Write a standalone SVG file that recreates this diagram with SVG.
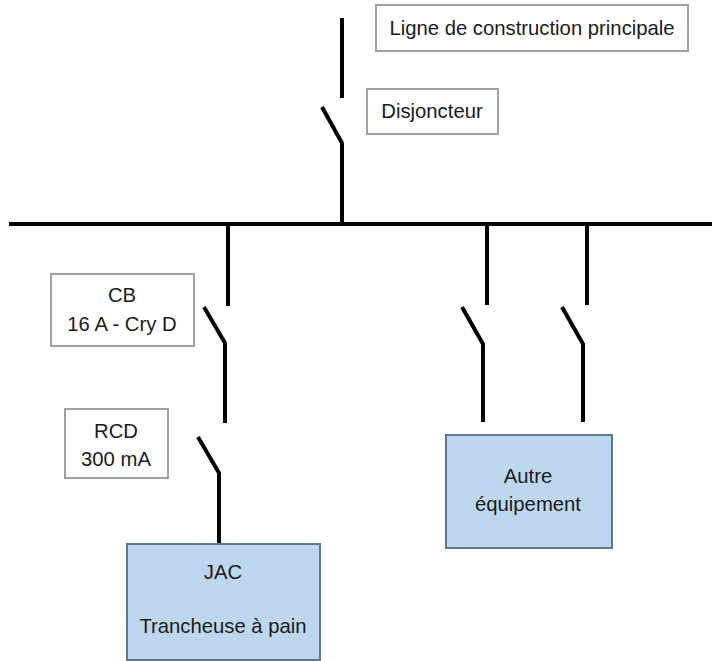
<svg xmlns="http://www.w3.org/2000/svg" width="715" height="661" viewBox="0 0 715 661">
<style>
.w{stroke:#000;stroke-width:4;fill:none;stroke-linecap:butt;stroke-linejoin:miter}
.lbl{fill:#fff;stroke:#a0a0a0;stroke-width:2}
.eq{fill:#bdd7ee;stroke:#5f7891;stroke-width:2}
text{font-family:"Liberation Sans",Arial,sans-serif;font-size:20.3px;fill:#1a1a1a;text-anchor:middle}
</style>
<rect width="715" height="661" fill="#fff"/>
<g id="connectors">
<path class="w" d="M342 18V98"/>
<path class="w" d="M322 107L342 143V225"/>
<path class="w" d="M9 224H712"/>
<path class="w" d="M228 224V306"/>
<path class="w" d="M204 307L225 343V423"/>
<path class="w" d="M198 437L219 473V544"/>
<path class="w" d="M487 224V305"/>
<path class="w" d="M462 307L483 344V422"/>
<path class="w" d="M587 224V305"/>
<path class="w" d="M562 307L583 344V422"/>
</g>
<g id="ligne">
<rect class="lbl" x="376" y="5" width="312" height="46"/>
<text x="532" y="35">Ligne de construction principale</text>
</g>
<g id="disjoncteur">
<rect class="lbl" x="367" y="89" width="131" height="45"/>
<text x="432" y="118">Disjoncteur</text>
</g>
<g id="cb">
<rect class="lbl" x="51" y="274" width="143" height="72"/>
<text x="122" y="302">CB</text>
<text x="122" y="331">16 A - Cry D</text>
</g>
<g id="rcd">
<rect class="lbl" x="65" y="409" width="103" height="69"/>
<text x="116" y="438">RCD</text>
<text x="116" y="466">300 mA</text>
</g>
<g id="jac">
<rect class="eq" x="127" y="544" width="193" height="116"/>
<text x="223" y="579">JAC</text>
<text x="223" y="633">Trancheuse à pain</text>
</g>
<g id="autre">
<rect class="eq" x="446" y="435" width="166" height="113"/>
<text x="528" y="483">Autre</text>
<text x="528" y="511">équipement</text>
</g>
</svg>
